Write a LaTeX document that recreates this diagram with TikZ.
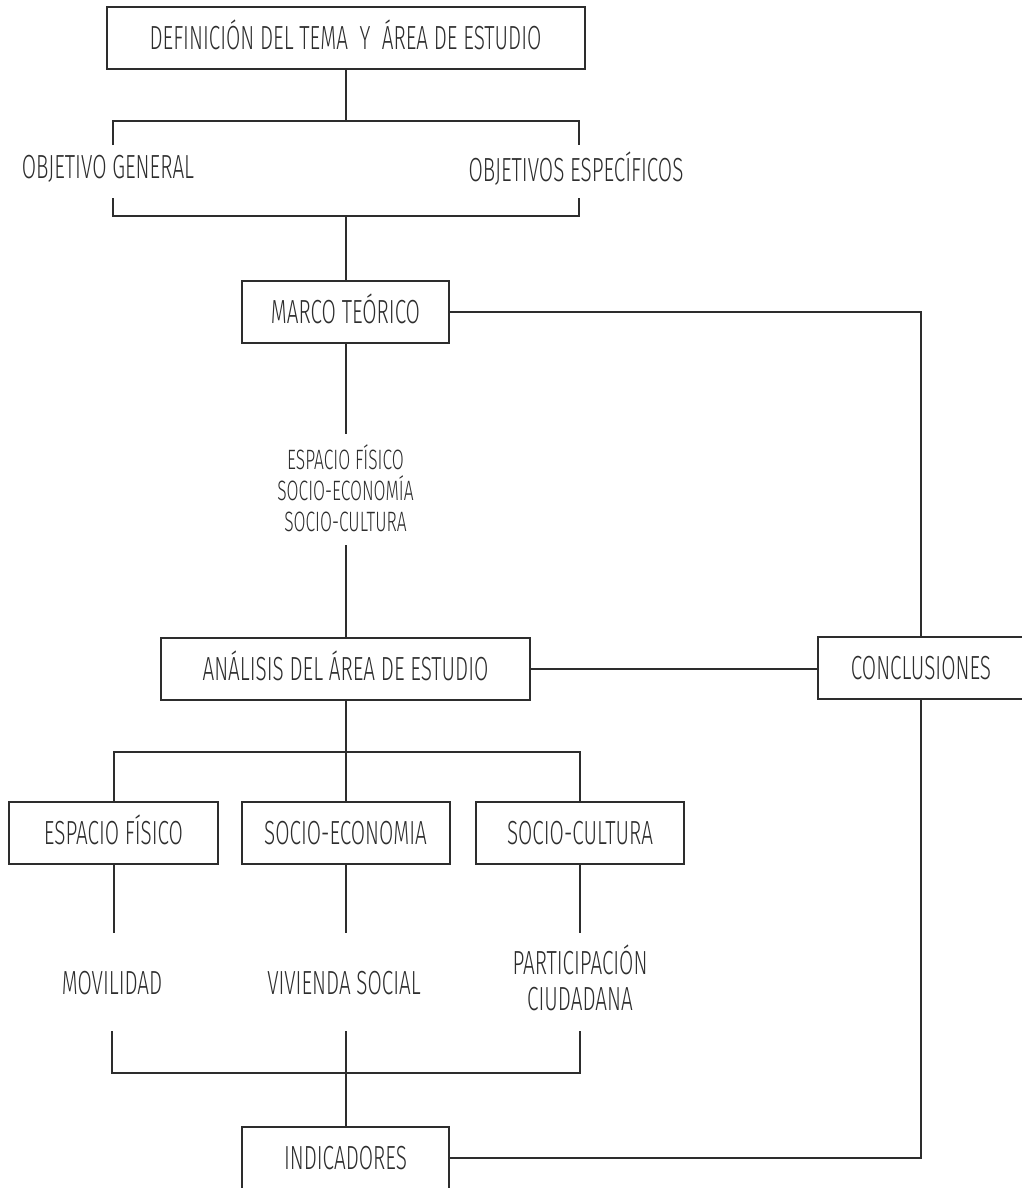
\documentclass[tikz,border=0pt]{standalone}
\usepackage{fontspec}
\setmainfont{Fira Sans Light}[FakeStretch=0.62]
\usetikzlibrary{positioning}
\definecolor{trazo}{RGB}{45,45,45}
\tikzset{
    every picture/.style={
        line width=1pt
    },
    % Boxes with a frame
    caja/.style={
        draw=trazo,
        text=trazo,
        font=\fontsize{16.7}{18}\selectfont,
        minimum height=31pt,
        text height=11.5pt,
        text depth=0pt,
        inner sep=0pt
    },
    % Loose labels
    texto/.style={
        text=trazo,
        font=\fontsize{16.7}{18}\selectfont,
        align=center,
        inner sep=0pt
    },
    % Small labels
    texto chico/.style={
        text=trazo,
        font=\fontsize{14}{15.5}\selectfont,
        align=center,
        inner sep=0pt
    },
    linea/.style={
        draw=trazo
    }
}

\begin{document}
\begin{tikzpicture}[x=0.5pt,y=-0.5pt]

% Set the canvas size
\useasboundingbox (0,0) rectangle (1022,1188);

% Columns and levels for the brackets
\coordinate (izq) at (113,0);
\coordinate (der) at (579,0);
\coordinate (nA) at (0,121);
\coordinate (nB) at (0,145);
\coordinate (nC) at (0,198);
\coordinate (nD) at (0,216);
\coordinate (nE) at (0,434);
\coordinate (nF) at (0,545);
\coordinate (nG) at (0,752);
\coordinate (nH) at (0,933);
\coordinate (nI) at (0,1031);
\coordinate (nJ) at (0,1073);

% Boxes
\node[caja, minimum width=239pt] (tema) at (345.5,38) {DEFINICIÓN DEL TEMA\ \ Y\ \ ÁREA DE ESTUDIO};
\node[caja, minimum width=103.5pt] (marco) at (345.5,312) {MARCO TEÓRICO};
\node[caja, minimum width=184.5pt] (analisis) at (345.5,669) {ANÁLISIS DEL ÁREA DE ESTUDIO};
\node[caja, minimum width=103pt] (concl) at (921,668) {CONCLUSIONES};
\node[caja, minimum width=104.5pt] (fis) at (113.5,833) {ESPACIO FÍSICO};
\node[caja, minimum width=104pt] (eco) at (345.5,833) {SOCIO-ECONOMIA};
\node[caja, minimum width=104pt] (cult) at (580,833) {SOCIO-CULTURA};
\node[caja, minimum width=103.5pt] (ind) at (345.5,1158) {INDICADORES};

% Loose labels
\node[texto] (gen) at (108,169) {OBJETIVO GENERAL};
\node[texto] (espec) at (576,169) {OBJETIVOS ESPECÍFICOS};
\node[texto chico] (ejes) at (345.5,488) {ESPACIO FÍSICO\\SOCIO-ECONOMÍA\\SOCIO-CULTURA};
\node[texto] (mov) at (112,983) {MOVILIDAD};
\node[texto] (viv) at (344,983) {VIVIENDA SOCIAL};
\node[texto] (part) at (580,978) {PARTICIPACIÓN\\CIUDADANA};

% Connectors
\draw[linea] (tema) -- (tema |- nA);
\draw[linea] (izq |- nB) -- (izq |- nA) -- (der |- nA) -- (der |- nB);
\draw[linea] (izq |- nC) -- (izq |- nD) -- (der |- nD) -- (der |- nC);
\draw[linea] (marco |- nD) -- (marco);
\draw[linea] (marco) -- (marco |- nE);
\draw[linea] (analisis |- nF) -- (analisis);
\draw[linea] (marco) -- (marco -| concl) -- (concl);
\draw[linea] (analisis) -- (analisis -| concl.west);
\draw[linea] (analisis) -- (analisis |- nG);
\draw[linea] (fis) -- (fis |- nG) -- (cult |- nG) -- (cult);
\draw[linea] (eco) -- (eco |- nG);
\draw[linea] (fis) -- (fis |- nH);
\draw[linea] (eco) -- (eco |- nH);
\draw[linea] (cult) -- (cult |- nH);
\draw[linea] (mov |- nI) -- (mov |- nJ) -- (part |- nJ) -- (part |- nI);
\draw[linea] (ind |- nI) -- (ind);
\draw[linea] (ind) -- (ind -| concl) -- (concl);

\end{tikzpicture}
\end{document}
